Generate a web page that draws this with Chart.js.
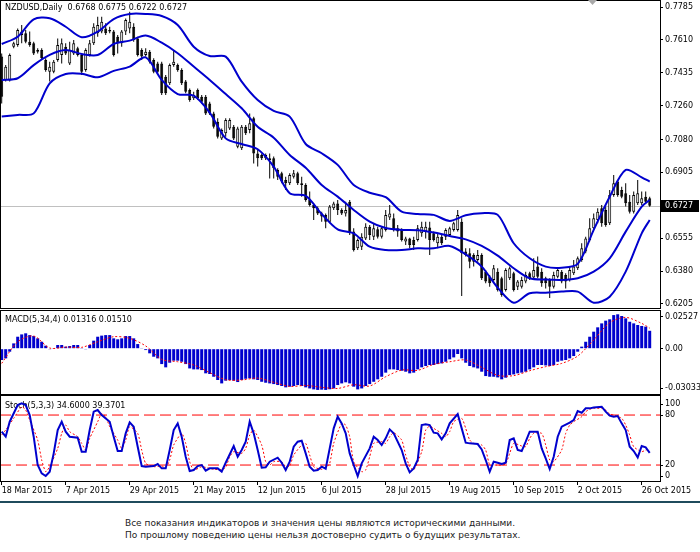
<!DOCTYPE html>
<html lang="ru">
<head>
<meta charset="UTF-8">
<title>NZDUSD Daily</title>
<script src="https://cdn.jsdelivr.net/npm/chart.js"></script>
<style>
  body { margin: 0; background: #fff; }
  .wrap { position: relative; width: 700px; height: 552px; overflow: hidden; }
  canvas { position: absolute; left: 0; }
  #main { top: 0; }
  #macd { top: 310px; }
  #stoch { top: 395px; }
  .sep { position: absolute; left: 0; top: 501px; width: 700px; height: 2px; background: #1f4b5c; }
  .note { position: absolute; left: 125px; top: 517px; font: 9px "DejaVu Sans", sans-serif; color: #222; line-height: 12px; white-space: nowrap; }
</style>
</head>
<body>
<div class="wrap">
  <canvas id="main" width="700" height="309"></canvas>
  <canvas id="macd" width="700" height="85"></canvas>
  <canvas id="stoch" width="700" height="107"></canvas>
  <div class="sep"></div>
  <div class="note">Все показания индикаторов и значения цены являются историческими данными.<br>По прошлому поведению цены нельзя достоверно судить о будущих результатах.</div>
</div>
<script>
// daily bars, 18 Mar 2015 .. 27 Oct 2015
const opens = [
  .7521,.7397,.7397,.7574,.7583,.7636,.7645,.7600,.7592,.7556,.7556,.7503,.7441,.7441,.7503,.7529,.7574,.7485,.7538,.7565,
  .7529,.7450,.7529,.7592,.7645,.7654,.7671,.7662,.7654,.7627,.7592,.7654,.7671,.7680,.7618,.7556,.7529,.7547,.7503,.7485,
  .7485,.7414,.7379,.7476,.7476,.7450,.7388,.7343,.7299,.7343,.7308,.7308,.7272,.7219,.7175,.7086,.7113,.7139,.7148,.7042,
  .7033,.7148,.7131,.7193,.7006,.6998,.6980,.6980,.6980,.6918,.6900,.6865,.6847,.6882,.6900,.6838,.6838,.6758,.6732,.6714,
  .6687,.6679,.6643,.6714,.6740,.6705,.6687,.6749,.6590,.6501,.6510,.6554,.6616,.6563,.6603,.6563,.6599,.6665,.6661,.6608,
  .6599,.6537,.6554,.6546,.6546,.6581,.6590,.6612,.6581,.6528,.6563,.6563,.6572,.6599,.6599,.6643,.6484,.6475,.6466,.6439,
  .6466,.6377,.6350,.6333,.6377,.6342,.6280,.6342,.6368,.6297,.6297,.6324,.6368,.6346,.6404,.6377,.6342,.6333,.6297,.6350,
  .6377,.6359,.6333,.6368,.6395,.6439,.6484,.6546,.6608,.6652,.6714,.6705,.6634,.6785,.6856,.6811,.6794,.6749,.6696,.6741,
  .6741,.6776,.6768
];
const highs = [
  .7538,.7476,.7538,.7600,.7671,.7689,.7662,.7654,.7600,.7565,.7565,.7512,.7494,.7503,.7618,.7618,.7592,.7600,.7609,.7574,
  .7538,.7565,.7609,.7698,.7733,.7733,.7698,.7680,.7662,.7636,.7662,.7724,.7760,.7698,.7627,.7565,.7565,.7556,.7512,.7494,
  .7494,.7423,.7485,.7556,.7485,.7459,.7397,.7352,.7334,.7352,.7317,.7317,.7281,.7228,.7193,.7139,.7193,.7193,.7157,.7148,
  .7157,.7157,.7219,.7201,.7024,.7006,.7006,.7006,.6989,.6927,.6909,.6882,.6900,.6918,.6909,.6882,.6847,.6803,.6740,.6723,
  .6696,.6687,.6732,.6749,.6758,.6714,.6749,.6758,.6608,.6554,.6581,.6634,.6625,.6634,.6616,.6616,.6705,.6732,.6687,.6625,
  .6608,.6563,.6558,.6563,.6625,.6643,.6643,.6643,.6590,.6581,.6572,.6608,.6616,.6643,.6705,.6661,.6501,.6501,.6475,.6492,
  .6475,.6386,.6359,.6413,.6395,.6350,.6395,.6404,.6377,.6333,.6350,.6377,.6377,.6448,.6457,.6395,.6350,.6342,.6377,.6395,
  .6386,.6368,.6404,.6439,.6457,.6528,.6563,.6661,.6687,.6714,.6732,.6723,.6811,.6891,.6865,.6829,.6847,.6785,.6803,.6865,
  .6803,.6803,.6775
];
const lows = [
  .7272,.7388,.7388,.7565,.7574,.7592,.7592,.7574,.7529,.7538,.7503,.7441,.7388,.7432,.7494,.7485,.7529,.7476,.7529,.7521,
  .7423,.7441,.7521,.7583,.7627,.7645,.7636,.7645,.7521,.7538,.7574,.7636,.7645,.7600,.7521,.7503,.7521,.7485,.7432,.7432,
  .7317,.7317,.7370,.7467,.7441,.7370,.7326,.7281,.7290,.7290,.7272,.7210,.7210,.7139,.7086,.7077,.7095,.7131,.7077,.7033,
  .7024,.7104,.7113,.6953,.6936,.6971,.6971,.6873,.6873,.6865,.6847,.6811,.6838,.6873,.6838,.6776,.6749,.6723,.6652,.6679,
  .6643,.6608,.6634,.6705,.6679,.6679,.6670,.6572,.6484,.6492,.6492,.6546,.6546,.6546,.6554,.6554,.6590,.6652,.6590,.6563,
  .6537,.6519,.6501,.6492,.6537,.6563,.6554,.6466,.6537,.6501,.6519,.6546,.6563,.6590,.6590,.6248,.6457,.6395,.6404,.6430,
  .6333,.6315,.6297,.6324,.6271,.6244,.6271,.6333,.6271,.6280,.6288,.6315,.6333,.6333,.6342,.6297,.6288,.6237,.6288,.6342,
  .6315,.6288,.6324,.6359,.6386,.6430,.6475,.6537,.6599,.6634,.6616,.6616,.6625,.6776,.6776,.6767,.6723,.6687,.6687,.6732,
  .6732,.6741,.6722
];
const closes = [
  .7308,.7467,.7529,.7592,.7662,.7654,.7600,.7583,.7538,.7547,.7512,.7450,.7467,.7494,.7583,.7592,.7538,.7556,.7592,.7529,
  .7441,.7556,.7592,.7680,.7689,.7707,.7645,.7654,.7529,.7592,.7654,.7716,.7707,.7609,.7529,.7521,.7547,.7494,.7441,.7441,
  .7326,.7326,.7476,.7494,.7450,.7379,.7334,.7290,.7317,.7299,.7281,.7219,.7219,.7148,.7095,.7131,.7184,.7184,.7086,.7139,
  .7148,.7113,.7166,.7006,.6980,.6980,.6998,.6971,.6927,.6882,.6856,.6847,.6891,.6900,.6847,.6847,.6758,.6732,.6714,.6687,
  .6670,.6643,.6723,.6740,.6705,.6687,.6705,.6581,.6492,.6546,.6563,.6616,.6572,.6608,.6563,.6608,.6678,.6687,.6599,.6590,
  .6546,.6554,.6519,.6519,.6608,.6616,.6616,.6546,.6546,.6563,.6528,.6599,.6608,.6634,.6678,.6475,.6466,.6430,.6430,.6466,
  .6342,.6324,.6315,.6395,.6280,.6253,.6386,.6395,.6280,.6324,.6333,.6359,.6342,.6386,.6350,.6315,.6315,.6297,.6359,.6386,
  .6324,.6324,.6386,.6404,.6448,.6501,.6554,.6608,.6661,.6696,.6634,.6625,.6785,.6847,.6785,.6776,.6741,.6696,.6785,.6794,
  .6767,.6749,.6727
];

// Bollinger bands, read every 4th bar
const bbIdx = [0,4,8,12,16,20,24,28,32,36,40,44,48,52,56,60,64,68,72,76,80,84,88,92,96,100,104,108,112,116,120,124,128,132,136,140,144,148,152,156,160,162];
const bbUpper = [.7588,.7627,.7719,.7725,.7680,.7624,.7654,.7721,.7748,.7748,.7737,.7689,.7574,.7524,.7521,.7388,.7290,.7232,.7202,.7056,.7007,.6945,.6838,.6797,.6773,.6696,.6684,.6679,.6647,.6677,.6688,.6679,.6528,.6448,.6404,.6398,.6418,.6599,.6776,.6918,.6879,.6856];
const bbMiddle = [.7397,.7406,.7476,.7530,.7556,.7535,.7530,.7588,.7606,.7633,.7595,.7539,.7468,.7397,.7322,.7246,.7148,.7090,.6998,.6930,.6838,.6776,.6705,.6643,.6609,.6599,.6597,.6585,.6567,.6549,.6514,.6462,.6395,.6342,.6335,.6333,.6342,.6377,.6448,.6590,.6723,.6758];
const bbLower = [.7202,.7211,.7219,.7379,.7429,.7430,.7411,.7445,.7468,.7517,.7397,.7322,.7313,.7223,.7086,.7056,.7028,.6936,.6794,.6780,.6684,.6602,.6581,.6510,.6492,.6492,.6501,.6501,.6514,.6469,.6404,.6292,.6212,.6262,.6265,.6271,.6271,.6212,.6244,.6377,.6581,.6652];

// MACD(5,34,4) histogram, one per bar
const macdHist = [
  -.0083,-.0071,-.0022,.0039,.0088,.0105,.0113,.0100,.0093,.0076,.0051,.0022,-.0002,.0002,.0027,.0027,.0015,.0020,.0027,.0027,
  .0002,-.0002,.0027,.0059,.0088,.0096,.0100,.0100,.0076,.0069,.0076,.0093,.0093,.0076,.0034,.0005,-.0010,-.0034,-.0059,-.0071,
  -.0113,-.0137,-.0103,-.0088,-.0088,-.0096,-.0113,-.0145,-.0152,-.0152,-.0157,-.0181,-.0186,-.0206,-.0230,-.0255,-.0235,-.0230,-.0235,-.0245,
  -.0230,-.0221,-.0218,-.0225,-.0230,-.0243,-.0250,-.0255,-.0260,-.0267,-.0274,-.0284,-.0279,-.0274,-.0267,-.0274,-.0284,-.0292,-.0299,-.0303,
  -.0301,-.0303,-.0298,-.0292,-.0267,-.0255,-.0247,-.0255,-.0279,-.0299,-.0292,-.0274,-.0260,-.0243,-.0225,-.0206,-.0176,-.0152,-.0152,-.0157,
  -.0162,-.0169,-.0181,-.0176,-.0152,-.0137,-.0127,-.0120,-.0120,-.0113,-.0108,-.0096,-.0078,-.0064,-.0039,-.0071,-.0103,-.0127,-.0137,-.0145,
  -.0169,-.0201,-.0206,-.0206,-.0211,-.0225,-.0213,-.0194,-.0189,-.0181,-.0176,-.0169,-.0152,-.0137,-.0120,-.0120,-.0123,-.0127,-.0120,-.0096,
  -.0088,-.0083,-.0071,-.0054,-.0022,.0015,.0051,.0088,.0125,.0157,.0186,.0206,.0216,.0247,.02527,.0240,.0223,.0198,.0186,.0174,
  .0167,.0162,.01316
];
const macdSignal = [-.0108,.0051,.0093,.0005,.0012,.0010,.0051,.0088,.0076,.0020,-.0078,-.0096,-.0120,-.0176,-.0228,-.0230,-.0216,-.0247,-.0277,-.0270,-.0284,-.0292,-.0265,-.0274,-.0206,-.0157,-.0159,-.0115,-.0096,-.0083,-.0137,-.0196,-.0198,-.0162,-.0132,-.0108,-.0054,.0064,.0191,.0230,.0186,.0151];

// Stochastic(5,3,3)
const stochIdx = [0,1,2,4,5,6,7,8,9,10,11,12,13,14,15,16,17,19,20,21,22,23,24,25,27,28,29,30,31,32,33,34,35,36,38,39,40,41,42,43,44,45,46,47,48,49,50,51,52,53,54,55,56,58,59,60,61,62,63,64,65,66,67,69,70,71,72,73,74,75,76,77,78,79,80,81,82,83,84,85,86,87,88,89,90,92,93,94,95,96,97,98,100,101,102,103,104,105,106,107,108,109,110,111,112,114,115,116,117,119,120,121,122,123,124,125,126,127,128,129,130,131,132,133,134,135,136,137,138,139,140,142,143,144,145,146,147,148,150,151,152,153,154,155,156,157,158,159,160,161,162];
const stochMain = [60,54,72,92,94,92,80,54,20,10,6.8,12,34,62,72,60,54,52.8,36,36,62,84,86,80,72,54,36.8,36.8,58,71.2,66,42,18.8,18,18.8,21.2,16,16,38,62,70,54,30,12.8,14,18.8,20,13.2,16,16,16,12,22.8,42.8,30,38,48,72,58,38,16.8,17.2,24,28.8,22.8,14,24,42,48,49.2,34,18,13.2,14,18,15.6,40,64,78,70,58,34,20,6.8,22,40,54,50,44,52,62.8,58,38,22,11.2,16,26,68,68.8,68,58.8,58,50.8,58,70,81.2,64,46.8,46,45.2,38.8,26,12,24,22.8,21.2,22.8,50,52,38,36.8,48,60,60,60,40,28,15.2,30,54,66,70.8,74,84.8,82.8,88,88,89,90,84,79.2,78,78.8,70,62,42,36.8,29.2,42.8,41.2,34.6];
const stochSigIdx = [0,1,3,5,6,7,9,10,11,12,14,15,16,17,19,20,21,22,24,25,26,27,29,30,31,32,34,35,36,38,40,41,42,43,45,46,47,48,50,51,53,55,56,57,58,60,61,62,63,65,66,67,68,70,71,72,73,75,76,77,78,80,81,82,83,85,86,87,88,90,91,92,93,95,96,97,98,100,101,102,103,105,106,107,108,110,111,112,113,115,116,117,118,120,121,122,123,125,126,127,128,130,131,132,133,135,136,137,138,140,141,142,143,145,146,147,148,150,151,152,153,155,156,157,158,160,161,162];
const stochSignal = [56,62,76,90,86,74,50,26,12,18,40,58,68,60,54,46,38,52,72,82,78,66,50,40,50,66,58,38,22,18,18.8,17.2,26,44,58,46,24,14,18,17.2,14.8,14.8,17.2,30,36,34,40,56,62,44,24,20,24,24,18,18.8,32,44,46,32,18,14.8,16.8,22,46,70,68,54,24,12,14,30,46,48,46,54,58.8,50,32,18,14,36,62,66.8,64,58,54,60,72,76,64,50,46,44,38,20,20,20,21.2,34,46,42.8,42,52,58,58,44,26,24,38,58,68,72,78,84,86.8,88,88,86,81.2,80,76,68,56,42,36,38,39.3701];
const stochLevels = [80, 20];

// axis labels (MT4 pulls the edge labels of a sub-window inward)
const priceTicks = [.7785,.7610,.7435,.7260,.7080,.6905,.6555,.6380,.6205];
const macdTickAt = [.0233, 0, -.0289];
const macdTickText = ['0.02527', '0.00', '-0.03033'];
const stochTickAt = [93.2, 80, 20, 6.8];
const stochTickText = ['100', '80', '20', '0'];
const dateIdx = [0,16,32,48,64,80,96,112,128,144,160];
const dateText = ['18 Mar 2015','7 Apr 2015','29 Apr 2015','21 May 2015','12 Jun 2015','6 Jul 2015','28 Jul 2015','19 Aug 2015','10 Sep 2015','2 Oct 2015','26 Oct 2015'];

const X_MIN = -0.425, X_MAX = 164.575;
const BLUE = '#0000cd', RED = '#ff0000';
const last = closes.length - 1;

Chart.defaults.font.family = '"DejaVu Sans", sans-serif';
Chart.defaults.font.size = 8;
Chart.defaults.color = '#000';

const panel = {
  id: 'panel',
  beforeDatasetsDraw(chart, args, o) {
    const {ctx, chartArea: a} = chart;
    ctx.save();
    if (o.priceLine != null) {
      const y = Math.round(chart.scales.y.getPixelForValue(o.priceLine)) + 0.5;
      ctx.strokeStyle = '#c0c0c0';
      ctx.lineWidth = 1;
      ctx.beginPath(); ctx.moveTo(a.left, y); ctx.lineTo(a.right, y); ctx.stroke();
    }
    ctx.font = '8px "DejaVu Sans"';
    ctx.fillStyle = '#000';
    ctx.textBaseline = 'middle';
    ctx.fillText(o.label, a.left + 5, a.top + o.labelY);
    ctx.restore();
  },
  afterDraw(chart, args, o) {
    const {ctx, chartArea: a} = chart;
    ctx.save();
    ctx.strokeStyle = '#000';
    ctx.lineWidth = 1;
    ctx.strokeRect(a.left + 0.5, a.top + 0.5, a.right - a.left, a.bottom - a.top - 1);
    if (o.priceLine != null) {
      const y = Math.round(chart.scales.y.getPixelForValue(o.priceLine));
      ctx.fillStyle = '#000';
      ctx.fillRect(a.right + 1, y - 6, 38, 12);
      ctx.fillStyle = '#fff';
      ctx.font = '8px "DejaVu Sans"';
      ctx.textBaseline = 'middle';
      ctx.fillText(o.priceLine.toFixed(4), a.right + 5, y);
      // chart shift marker
      ctx.fillStyle = '#a8a8a8';
      ctx.beginPath(); ctx.moveTo(588, 0); ctx.lineTo(597, 0); ctx.lineTo(592.5, 5); ctx.closePath(); ctx.fill();
    }
    ctx.restore();
  }
};

function yAxis(min, max, tickVals, fmt) {
  return {
    position: 'right', min, max,
    afterBuildTicks: s => { s.ticks = tickVals.map(v => ({value: v})); },
    afterFit: s => { s.width = 40; s.paddingTop = 0; s.paddingBottom = 0; },
    ticks: { autoSkip: false, padding: 2, callback: (v, i) => fmt(v, i) },
    grid: { drawOnChartArea: false, drawTicks: true, tickLength: 3, color: '#000' },
    border: { display: false }
  };
}
const xHidden = { type: 'linear', min: X_MIN, max: X_MAX, offset: false, grid: { offset: false }, display: false };
const baseOpts = { responsive: false, animation: false, events: [], layout: { padding: 0 } };

const bars = closes.map((_, i) => i);

new Chart(document.getElementById('main'), {
  type: 'bar',
  data: {
    datasets: [
      { type: 'line', data: bbIdx.map((x, k) => ({x, y: bbUpper[k]})), borderColor: BLUE, borderWidth: 2, pointRadius: 0, tension: 0.3, order: 1 },
      { type: 'line', data: bbIdx.map((x, k) => ({x, y: bbMiddle[k]})), borderColor: BLUE, borderWidth: 2, pointRadius: 0, tension: 0.3, order: 1 },
      { type: 'line', data: bbIdx.map((x, k) => ({x, y: bbLower[k]})), borderColor: BLUE, borderWidth: 2, pointRadius: 0, tension: 0.3, order: 1 },
      { data: bars.map(i => ({x: i, y: [Math.min(opens[i], closes[i]), Math.max(opens[i], closes[i])]})),
        backgroundColor: bars.map(i => closes[i] >= opens[i] ? '#fff' : '#000'),
        borderColor: '#000', borderWidth: 1, borderSkipped: false, barThickness: 3, minBarLength: 1,
        inflateAmount: 0, grouped: false, order: 2 },
      { data: bars.map(i => ({x: i, y: [lows[i], highs[i]]})),
        backgroundColor: '#000', barThickness: 1, inflateAmount: 0, grouped: false, order: 3 }
    ]
  },
  options: {
    ...baseOpts,
    scales: { x: xHidden, y: yAxis(0.617836, 0.782224, priceTicks, v => v.toFixed(4)) },
    plugins: {
      legend: { display: false }, tooltip: { enabled: false },
      panel: { label: 'NZDUSD,Daily  ' + [opens[last], highs[last], lows[last], closes[last]].map(v => v.toFixed(4)).join(' '),
               labelY: 7.5, priceLine: closes[last] }
    }
  },
  plugins: [panel]
});

new Chart(document.getElementById('macd'), {
  type: 'bar',
  data: {
    datasets: [
      { type: 'line', data: bbIdx.map((x, k) => ({x, y: macdSignal[k]})), borderColor: RED, borderWidth: 1, borderDash: [2, 2], pointRadius: 0, tension: 0.3, order: 1 },
      { data: bars.map(i => ({x: i, y: macdHist[i]})), backgroundColor: BLUE, barThickness: 3, inflateAmount: 0, order: 2 }
    ]
  },
  options: {
    ...baseOpts,
    scales: { x: xHidden, y: yAxis(-0.03402, 0.02843, macdTickAt, (v, i) => macdTickText[i]) },
    plugins: {
      legend: { display: false }, tooltip: { enabled: false },
      panel: { label: 'MACD(5,34,4) ' + macdHist[last].toFixed(5) + ' ' + macdSignal[macdSignal.length - 1].toFixed(5), labelY: 9.5 }
    }
  },
  plugins: [panel]
});

new Chart(document.getElementById('stoch'), {
  type: 'line',
  data: {
    datasets: [
      ...stochLevels.map(lv => ({ data: [{x: X_MIN, y: lv}, {x: X_MAX, y: lv}], borderColor: RED, borderWidth: 1, borderDash: [11, 5], pointRadius: 0, order: 3 })),
      { data: stochSigIdx.map((x, k) => ({x, y: stochSignal[k]})), borderColor: RED, borderWidth: 1, borderDash: [2, 2], pointRadius: 0, tension: 0.2, order: 2 },
      { data: stochIdx.map((x, k) => ({x, y: stochMain[k]})), borderColor: BLUE, borderWidth: 2, pointRadius: 0, tension: 0, order: 1 }
    ]
  },
  options: {
    ...baseOpts,
    scales: {
      x: {
        type: 'linear', min: X_MIN, max: X_MAX, position: 'bottom', offset: false,
        afterBuildTicks: s => { s.ticks = dateIdx.map(v => ({value: v})); },
        afterFit: s => { s.height = 20; s.paddingLeft = 0; s.paddingRight = 0; },
        ticks: { autoSkip: false, maxRotation: 0, align: 'start', padding: 1, callback: (v, i) => dateText[i] },
        grid: { drawOnChartArea: false, drawTicks: true, tickLength: 3, color: '#000' },
        border: { display: false }
      },
      y: yAxis(-0.36, 104.04, stochTickAt, (v, i) => stochTickText[i])
    },
    plugins: {
      legend: { display: false }, tooltip: { enabled: false },
      panel: { label: 'Stoch(5,3,3) ' + stochMain[stochMain.length - 1].toFixed(4) + ' ' + stochSignal[stochSignal.length - 1].toFixed(4), labelY: 11 }
    }
  },
  plugins: [panel]
});
</script>
</body>
</html>
